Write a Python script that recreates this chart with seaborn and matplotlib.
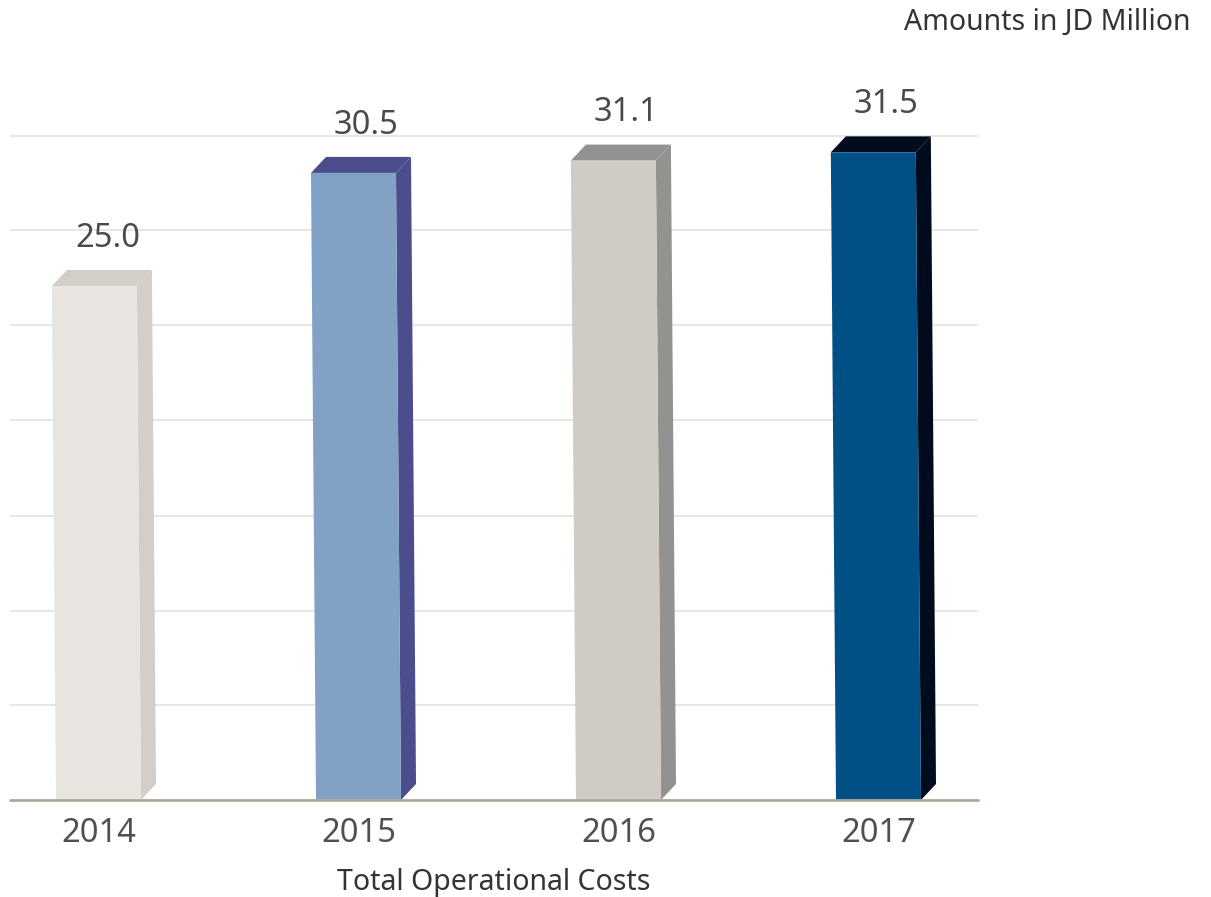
import matplotlib
matplotlib.use("Agg")
import matplotlib.pyplot as plt
from matplotlib.patches import Polygon
import pandas as pd
import seaborn as sns

years = ["2014", "2015", "2016", "2017"]
costs = [25.0, 30.5, 31.1, 31.5]
front_colors = ["#e8e5e0", "#81a2c5", "#d0cbc5", "#005086"]
side_colors = ["#d3cec8", "#4b4d8c", "#949290", "#000c1e"]
grid_values = [4.6, 9.2, 13.8, 18.5, 23.1, 27.7, 32.3]

sns.set_theme(style="white")
plt.rcParams['font.family'] = ['Noto Sans', 'DejaVu Sans']

df = pd.DataFrame({"year": years, "cost": costs})

fig = plt.figure(figsize=(12.11, 8.97), dpi=100)
ax = fig.add_axes([10 / 1211, 97 / 897, 968 / 1211, (800 - 80.4) / 897])

sns.barplot(data=df, x="year", y="cost", hue="year", palette=front_colors,
            width=0.327, legend=False, ax=ax, saturation=1)

ax.set_xlim(-0.3404, 3.3827)
ax.set_ylim(0, 35)

# 3d-ish look: depth offsets in data units
dx = 15 / 260
dy = 16 / 20.56
skew = 0.008 * 20.56 / 260  # top leans left a little

for g in grid_values:
    ax.axhline(g, color="#e3e1de", lw=1.2, zorder=0)

for i, p in enumerate(ax.patches):
    x0 = p.get_x()
    w = p.get_width()
    h = p.get_height()
    p.set_visible(False)
    s = skew * h
    front = [(x0, 0), (x0 + w, 0), (x0 + w - s, h), (x0 - s, h)]
    side = [(x0 + w, 0), (x0 + w + dx, dy), (x0 + w - s + dx, h + dy), (x0 + w - s, h)]
    top = [(x0 - s, h), (x0 + w - s, h), (x0 + w - s + dx, h + dy), (x0 - s + dx, h + dy)]
    ax.add_patch(Polygon(side, closed=True, fc=side_colors[i], ec="none", zorder=2))
    ax.add_patch(Polygon(top, closed=True, fc=side_colors[i], ec="none", zorder=2))
    ax.add_patch(Polygon(front, closed=True, fc=front_colors[i], ec="none", zorder=3))
    ax.text(x0 + w / 2 - s + 0.05, h + dy + 0.75, f"{costs[i]:.1f}", ha="center", va="bottom",
            fontsize=23.5, color="#4a4a4a", clip_on=False)

ax.axhline(0, color="#b0a89c", lw=2, zorder=4, clip_on=False)

for side_name in ["top", "right", "left", "bottom"]:
    ax.spines[side_name].set_visible(False)
ax.set_yticks([])
ax.tick_params(axis="x", length=0, pad=12, labelsize=23.5, labelcolor="#505050")
ax.set_xlabel("Total Operational Costs", fontsize=20.5, color="#333333", labelpad=13)
ax.set_ylabel("")

fig.text(1190 / 1211, 1 - 22 / 897, "Amounts in JD Million", ha="right", va="center",
         fontsize=20.5, color="#333333")

fig.savefig("out.png", dpi=100)
